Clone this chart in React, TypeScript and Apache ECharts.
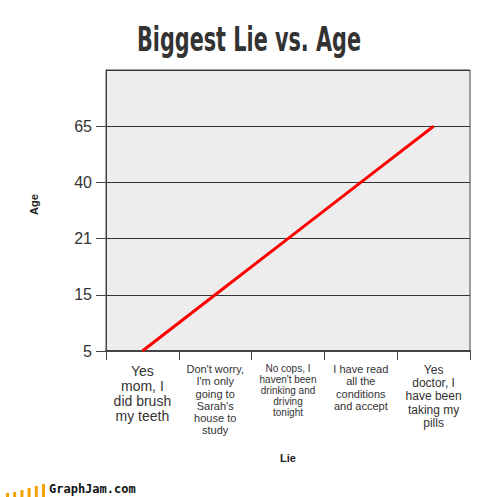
import React, { useEffect, useRef } from "react";
import * as echarts from "echarts";

const lies = [
  "Yes\nmom, I\ndid brush\nmy teeth",
  "Don't worry,\nI'm only\ngoing to\nSarah's\nhouse to\nstudy",
  "No cops, I\nhaven't been\ndrinking and\ndriving\ntonight",
  "I have read\nall the\nconditions\nand accept",
  "Yes\ndoctor, I\nhave been\ntaking my\npills",
];
const ageTicks = ["5", "15", "21", "40", "65", ""];
const ages = ["5", "15", "21", "40", "65"];
const titleText = "Biggest Lie vs. Age";
const xName = "Lie";
const yName = "Age";
const logoBars = [4, 5, 7, 9, 11, 13];

const labelSizes = [14, 11, 10, 11, 12];
const labelLines = [15, 12.2, 11, 12.2, 13.3];

export default function App() {
  const ref = useRef<HTMLDivElement>(null);
  useEffect(() => {
    document.body.style.margin = "0";
    const chart = echarts.init(ref.current!, null, { renderer: "svg" });
    const rich: any = {};
    labelSizes.forEach((s, i) => {
      rich["s" + i] = {
        fontSize: s,
        lineHeight: labelLines[i],
        color: "#333",
        fontFamily: "Arial, 'Liberation Sans', sans-serif",
        align: "center",
      };
    });
    const graphics: any[] = [
      {
        type: "text",
        x: 249,
        y: 40,
        scaleX: 0.7,
        style: {
          text: titleText,
          fontSize: 33,
          fontWeight: "bold",
          fontFamily: "'DejaVu Sans Condensed', 'Liberation Sans Narrow', sans-serif",
          fill: "#333",
          align: "center",
          verticalAlign: "middle",
        },
      },
      {
        type: "text",
        x: 49,
        y: 495,
        style: {
          text: "GraphJam.com",
          fontSize: 12,
          fontWeight: "bold",
          fontFamily: "'DejaVu Sans Mono', monospace",
          fill: "#111",
          align: "left",
          verticalAlign: "bottom",
        },
      },
    ];
    logoBars.forEach((h, i) => {
      graphics.push({
        type: "rect",
        shape: { x: 6 + i * 7.2, y: 497 - h, width: 3, height: h },
        style: { fill: "#f5a200" },
      });
    });
    chart.setOption({
      animation: false,
      backgroundColor: "#fff",
      grid: {
        left: 106,
        right: 34,
        top: 70,
        bottom: 146,
        show: true,
        backgroundColor: "#ededed",
        borderColor: "#444",
        borderWidth: 1,
      },
      graphic: graphics,
      xAxis: {
        type: "category",
        data: lies,
        boundaryGap: true,
        name: xName,
        nameLocation: "middle",
        nameGap: 101,
        nameTextStyle: {
          fontSize: 11,
          fontWeight: "bold",
          color: "#222",
          fontFamily: "Arial, 'Liberation Sans', sans-serif",
        },
        axisLine: { show: true, lineStyle: { color: "#444", width: 2 } },
        axisTick: { show: true, length: 9, lineStyle: { color: "#444" } },
        axisLabel: {
          interval: 0,
          margin: 12,
          formatter: (v: string, i: number) => `{s${i}|${v}}`,
          rich,
        },
        splitLine: { show: false },
      },
      yAxis: {
        type: "category",
        data: ageTicks,
        boundaryGap: false,
        name: yName,
        nameLocation: "middle",
        nameGap: 67,
        nameRotate: 90,
        nameTextStyle: {
          fontSize: 11,
          fontWeight: "bold",
          color: "#222",
          fontFamily: "Arial, 'Liberation Sans', sans-serif",
          padding: [0, 0, 0, 12],
        },
        axisLine: { show: true, lineStyle: { color: "#444", width: 1 } },
        axisTick: {
          show: true,
          length: 10,
          interval: (i: number, v: string) => v !== "",
          lineStyle: { color: "#444" },
        },
        axisLabel: {
          margin: 14,
          fontSize: 16,
          color: "#333",
          fontFamily: "Arial, 'Liberation Sans', sans-serif",
        },
        splitLine: { show: true, lineStyle: { color: "#333", width: 1 } },
      },
      series: [
        {
          type: "line",
          data: ages.map((a) => ageTicks.indexOf(a)),
          symbol: "none",
          lineStyle: { color: "#ff0000", width: 3 },
        },
      ],
    });
    return () => chart.dispose();
  }, []);
  return <div ref={ref} style={{ width: 504, height: 497 }} />;
}
